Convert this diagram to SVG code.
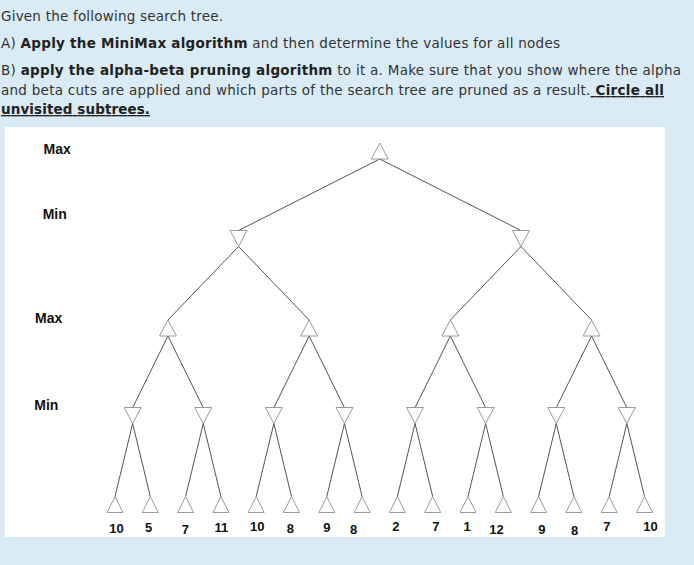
<svg xmlns="http://www.w3.org/2000/svg" xmlns:xlink="http://www.w3.org/1999/xlink" width="694" height="565" viewBox="0 0 694 565">
<style>
.hd{font-family:"DejaVu Sans",Verdana,sans-serif;font-size:13.5px;fill:#333}
.b{font-weight:bold;fill:#222}
.u{text-decoration:underline}
.lvl{font-family:"Liberation Sans",Arial,sans-serif;font-weight:bold;font-size:14px;fill:#111}
.val{font-family:"Liberation Sans",Arial,sans-serif;font-weight:bold;font-size:13px;fill:#111}
.tri{fill:#fff;stroke:#9a9a9a;stroke-width:1}
.edge line{stroke:#555;stroke-width:1}
</style>
<defs>
<polygon id="up" class="tri" points="0,0 8.5,16 -8.5,16"/>
<polygon id="dn" class="tri" points="-8.5,0 8.5,0 0,16"/>
<polygon id="lf" class="tri" points="0,0 8,16 -8,16"/>
</defs>
<rect x="0" y="0" width="694" height="565" fill="#d9ebf5"/>
<text class="hd" x="1" y="21" textLength="222" lengthAdjust="spacing">Given the following search tree.</text>
<text class="hd" x="1" y="48" textLength="559" lengthAdjust="spacing">A) <tspan class="b">Apply the MiniMax algorithm</tspan> and then determine the values for all nodes</text>
<text class="hd" x="1" y="75" textLength="680" lengthAdjust="spacing">B) <tspan class="b">apply the alpha-beta pruning algorithm</tspan> to it a. Make sure that you show where the alpha</text>
<text class="hd" x="1" y="95" textLength="663" lengthAdjust="spacing">and beta cuts are applied and which parts of the search tree are pruned as a result.<tspan class="b u"> Circle all</tspan></text>
<text class="hd" x="1" y="114" textLength="149" lengthAdjust="spacing"><tspan class="b u">unvisited subtrees.</tspan></text>
<rect x="5" y="127" width="660" height="410" fill="#fff"/>
<g id="levels">
<text class="lvl" x="43.5" y="154">Max</text>
<text class="lvl" x="42.7" y="219">Min</text>
<text class="lvl" x="35" y="323">Max</text>
<text class="lvl" x="34.3" y="410">Min</text>
</g>
<g class="edge" id="connectors">
<line x1="379.75" y1="159" x2="238.55" y2="230.5"/>
<line x1="379.75" y1="159" x2="520.95" y2="230.5"/>
<line x1="238.55" y1="246.5" x2="167.95" y2="320"/>
<line x1="238.55" y1="246.5" x2="309.15" y2="320"/>
<line x1="520.95" y1="246.5" x2="450.35" y2="320"/>
<line x1="520.95" y1="246.5" x2="591.55" y2="320"/>
<line x1="167.95" y1="336" x2="132.65" y2="407.7"/>
<line x1="167.95" y1="336" x2="203.25" y2="407.7"/>
<line x1="309.15" y1="336" x2="273.85" y2="407.7"/>
<line x1="309.15" y1="336" x2="344.45" y2="407.7"/>
<line x1="450.35" y1="336" x2="415.05" y2="407.7"/>
<line x1="450.35" y1="336" x2="485.65" y2="407.7"/>
<line x1="591.55" y1="336" x2="556.25" y2="407.7"/>
<line x1="591.55" y1="336" x2="626.85" y2="407.7"/>
<line x1="132.65" y1="423.5" x2="115" y2="496.5"/>
<line x1="132.65" y1="423.5" x2="150.3" y2="496.5"/>
<line x1="203.25" y1="423.5" x2="185.6" y2="496.5"/>
<line x1="203.25" y1="423.5" x2="220.9" y2="496.5"/>
<line x1="273.85" y1="423.5" x2="256.2" y2="496.5"/>
<line x1="273.85" y1="423.5" x2="291.5" y2="496.5"/>
<line x1="344.45" y1="423.5" x2="326.8" y2="496.5"/>
<line x1="344.45" y1="423.5" x2="362.1" y2="496.5"/>
<line x1="415.05" y1="423.5" x2="397.4" y2="496.5"/>
<line x1="415.05" y1="423.5" x2="432.7" y2="496.5"/>
<line x1="485.65" y1="423.5" x2="468" y2="496.5"/>
<line x1="485.65" y1="423.5" x2="503.3" y2="496.5"/>
<line x1="556.25" y1="423.5" x2="538.6" y2="496.5"/>
<line x1="556.25" y1="423.5" x2="573.9" y2="496.5"/>
<line x1="626.85" y1="423.5" x2="609.2" y2="496.5"/>
<line x1="626.85" y1="423.5" x2="644.5" y2="496.5"/>
</g>
<g id="root"><use xlink:href="#up" x="379.75" y="143"/></g>
<g id="min1a"><use xlink:href="#dn" x="238.55" y="230.5"/></g>
<g id="min1b"><use xlink:href="#dn" x="520.95" y="230.5"/></g>
<g id="max2a"><use xlink:href="#up" x="167.95" y="320"/></g>
<g id="max2b"><use xlink:href="#up" x="309.15" y="320"/></g>
<g id="max2c"><use xlink:href="#up" x="450.35" y="320"/></g>
<g id="max2d"><use xlink:href="#up" x="591.55" y="320"/></g>
<g id="min3a"><use xlink:href="#dn" x="132.65" y="407.5"/></g>
<g id="min3b"><use xlink:href="#dn" x="203.25" y="407.5"/></g>
<g id="min3c"><use xlink:href="#dn" x="273.85" y="407.5"/></g>
<g id="min3d"><use xlink:href="#dn" x="344.45" y="407.5"/></g>
<g id="min3e"><use xlink:href="#dn" x="415.05" y="407.5"/></g>
<g id="min3f"><use xlink:href="#dn" x="485.65" y="407.5"/></g>
<g id="min3g"><use xlink:href="#dn" x="556.25" y="407.5"/></g>
<g id="min3h"><use xlink:href="#dn" x="626.85" y="407.5"/></g>
<g id="leaf1"><use xlink:href="#lf" x="115" y="496.5"/><text class="val" x="109.3" y="532.7">10</text></g>
<g id="leaf2"><use xlink:href="#lf" x="150.3" y="496.5"/><text class="val" x="145" y="532">5</text></g>
<g id="leaf3"><use xlink:href="#lf" x="185.6" y="496.5"/><text class="val" x="181.7" y="534">7</text></g>
<g id="leaf4"><use xlink:href="#lf" x="220.9" y="496.5"/><text class="val" x="214.5" y="531.7">11</text></g>
<g id="leaf5"><use xlink:href="#lf" x="256.2" y="496.5"/><text class="val" x="250" y="530.7">10</text></g>
<g id="leaf6"><use xlink:href="#lf" x="291.5" y="496.5"/><text class="val" x="286.7" y="533.3">8</text></g>
<g id="leaf7"><use xlink:href="#lf" x="326.8" y="496.5"/><text class="val" x="323.3" y="532.3">9</text></g>
<g id="leaf8"><use xlink:href="#lf" x="362.1" y="496.5"/><text class="val" x="350" y="534">8</text></g>
<g id="leaf9"><use xlink:href="#lf" x="397.4" y="496.5"/><text class="val" x="392.3" y="531">2</text></g>
<g id="leaf10"><use xlink:href="#lf" x="432.7" y="496.5"/><text class="val" x="432.3" y="531">7</text></g>
<g id="leaf11"><use xlink:href="#lf" x="468" y="496.5"/><text class="val" x="463.5" y="531">1</text></g>
<g id="leaf12"><use xlink:href="#lf" x="503.3" y="496.5"/><text class="val" x="489.3" y="534">12</text></g>
<g id="leaf13"><use xlink:href="#lf" x="538.6" y="496.5"/><text class="val" x="538.3" y="534">9</text></g>
<g id="leaf14"><use xlink:href="#lf" x="573.9" y="496.5"/><text class="val" x="571" y="535">8</text></g>
<g id="leaf15"><use xlink:href="#lf" x="609.2" y="496.5"/><text class="val" x="603.3" y="530.7">7</text></g>
<g id="leaf16"><use xlink:href="#lf" x="644.5" y="496.5"/><text class="val" x="643.3" y="530.7">10</text></g>
</svg>
